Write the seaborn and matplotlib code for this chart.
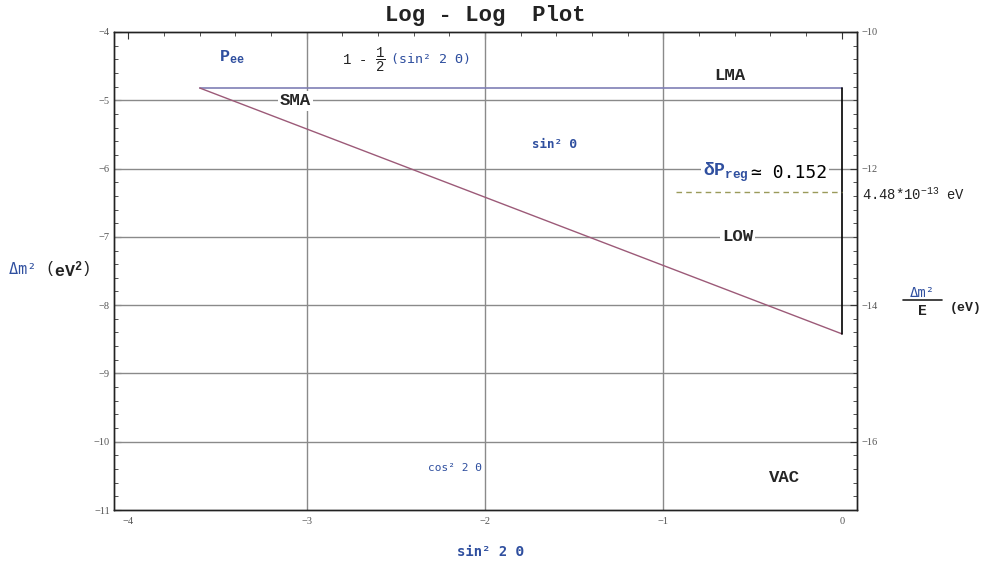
import numpy as np
import pandas as pd
import matplotlib
matplotlib.use("Agg")
import matplotlib.pyplot as plt
import seaborn as sns
from matplotlib.ticker import MultipleLocator, FixedLocator

# 1. Data ----------------------------------------------------------------

# axis ticks (log10 values)
x_ticks = [-4, -3, -2, -1, 0]
y_ticks_left = [-11, -10, -9, -8, -7, -6, -5, -4]
y_ticks_right = [-16, -14, -12, -10]
right_offset = -6  # log10(dm2/E) = log10(dm2) - 6

# grid lines
grid_x = [-3, -2, -1]
grid_y = [-10, -9, -8, -7, -6, -5]

# region boundaries
lma_x = [-3.6, 0.0]
lma_y = [-4.82, -4.82]
sma_x = [-3.6, 0.0]
sma_y = [-4.82, -8.42]
edge_x = [0.0, 0.0]
edge_y = [-4.82, -8.42]
res_x = [-0.93, 0.0]
res_y = [-6.35, -6.35]

# 2. Style ---------------------------------------------------------------

sns.set_style("white")
plt.rcParams["font.family"] = ["Liberation Mono", "DejaVu Sans Mono"]
plt.rcParams["mathtext.fontset"] = "custom"
plt.rcParams["mathtext.rm"] = "Liberation Mono"
plt.rcParams["mathtext.bf"] = "Liberation Mono:bold"
plt.rcParams["mathtext.it"] = "Liberation Mono"

blue = "#2f4f9f"
grid_col = "#8a8a8a"
mono = ["Liberation Mono", "DejaVu Sans Mono"]
greek = ["DejaVu Sans Mono"]

fig = plt.figure(figsize=(9.88, 5.63), dpi=100)
ax = fig.add_axes([0.1154, 0.0941, 0.7520, 0.8491])

for gx in grid_x:
    ax.axvline(gx, color=grid_col, lw=1.0, zorder=1)
for gy in grid_y:
    ax.axhline(gy, color=grid_col, lw=1.0, zorder=1)

line_kw = dict(ax=ax, estimator=None, sort=False, zorder=3)
sns.lineplot(x=lma_x, y=lma_y, color="#7f7fb5", lw=1.2, **line_kw)
sns.lineplot(x=sma_x, y=sma_y, color="#9c5a78", lw=1.0, **line_kw)
sns.lineplot(x=edge_x, y=edge_y, color="black", lw=1.2, **line_kw)
sns.lineplot(x=res_x, y=res_y, color="#9a9a5a", lw=1.0, ls=(0, (4, 3)), **line_kw)

ax.set_xlim(-4.08, 0.085)
ax.set_ylim(-11, -4)
ax.xaxis.set_major_locator(FixedLocator(x_ticks))
ax.xaxis.set_minor_locator(MultipleLocator(0.2))
ax.yaxis.set_major_locator(FixedLocator(y_ticks_left))
ax.yaxis.set_minor_locator(MultipleLocator(0.2))
ax.tick_params(axis="both", which="both", direction="in", top=True,
               labelsize=7.5, labelcolor="#555555", color="#333333")
ax.tick_params(which="major", length=5, width=0.8)
ax.tick_params(which="minor", length=3, width=0.6)
for lbl in ax.get_xticklabels() + ax.get_yticklabels():
    lbl.set_fontfamily("Liberation Serif")
ax.tick_params(axis="x", pad=5)
ax.tick_params(axis="y", pad=3)

ax2 = ax.twinx()
ax2.set_ylim(-11 + right_offset, -4 + right_offset)
ax2.yaxis.set_major_locator(FixedLocator(y_ticks_right))
ax2.yaxis.set_minor_locator(MultipleLocator(0.2))
ax2.tick_params(axis="y", which="both", direction="in", labelsize=7.5,
                labelcolor="#555555", color="#333333", pad=3)
ax2.tick_params(which="major", length=5, width=0.8)
ax2.tick_params(which="minor", length=3, width=0.6)
for lbl in ax2.get_yticklabels():
    lbl.set_fontfamily("Liberation Serif")

for a in (ax, ax2):
    for sp in a.spines.values():
        sp.set_color("#222222")
        sp.set_linewidth(1.0)

# 3. Annotations ---------------------------------------------------------

box = dict(facecolor="white", edgecolor="none", pad=1.5)

ax.text(-3.417, -4.37, r"$\mathbf{P_{ee}}$", color=blue, fontsize=12,
        ha="center", va="center")
ax.text(-2.56, -4.41, r"1 - $\dfrac{1}{2}$", color="#222222", fontsize=10,
        ha="right", va="center")
ax.text(-2.53, -4.41, "(sin² 2 Θ)", color=blue, fontsize=9.5,
        ha="left", va="center", family=greek)
ax.text(-0.627, -4.63, "LMA", fontsize=12.5, weight="bold", ha="center", va="center")
ax.text(-3.064, -5.01, "SMA", fontsize=12.5, weight="bold", ha="center",
        va="center", bbox=box, zorder=4)
ax.text(-1.608, -5.65, "sin² Θ", color=blue, fontsize=9, weight="bold",
        ha="center", va="center", family=greek)
ax.text(-0.52, -6.06, r"$\mathbf{\delta P_{reg}}$", color=blue, fontsize=13,
        ha="right", va="center", bbox=box, zorder=4)
ax.text(-0.51, -6.06, "≃ 0.152", color="black", fontsize=13,
        ha="left", va="center", family=["DejaVu Sans Mono"], bbox=box, zorder=4)
ax.text(-0.583, -7.0, "LOW", fontsize=12.5, weight="bold", ha="center",
        va="center", bbox=box, zorder=4)
ax.text(-2.168, -10.38, "cos² 2 Θ", color=blue, fontsize=8,
        ha="center", va="center", family=greek)
ax.text(-0.319, -10.53, "VAC", fontsize=12.5, weight="bold", ha="center", va="center")
ax.text(0.112, -6.39, r"4.48*10$^{-13}$ eV", fontsize=10, color="#222222",
        ha="left", va="center", clip_on=False)

fig.text(485 / 988, 1 - 15 / 563, "Log - Log  Plot", fontsize=16, weight="bold",
         ha="center", va="center", color="#222222")
fig.text(45 / 988, 1 - 270 / 563, "Δm² ", color=blue, fontsize=11,
         ha="right", va="center", family=greek)
fig.text(45 / 988, 1 - 270 / 563, r"$\left(\mathbf{eV^2}\right)$", color="#222222",
         fontsize=12, ha="left", va="center")
fig.text(922 / 988, 1 - 300 / 563, "Δm²", color=blue, fontsize=10,
         ha="center", va="bottom", family=greek)
fig.add_artist(plt.Line2D([903 / 988, 942 / 988], [1 - 300 / 563] * 2,
                          color="#222222", lw=1.2))
fig.text(922 / 988, 1 - 304 / 563, "E", fontsize=10.5, weight="bold",
         ha="center", va="top", color="#222222")
fig.text(950 / 988, 1 - 308 / 563, "(eV)", fontsize=9.5, weight="bold",
         ha="left", va="center", color="#222222")
fig.text(490 / 988, 1 - 552 / 563, "sin² 2 Θ", color=blue, fontsize=10,
         weight="bold", ha="center", va="center", family=greek)

plt.savefig("out.png", dpi=100)
